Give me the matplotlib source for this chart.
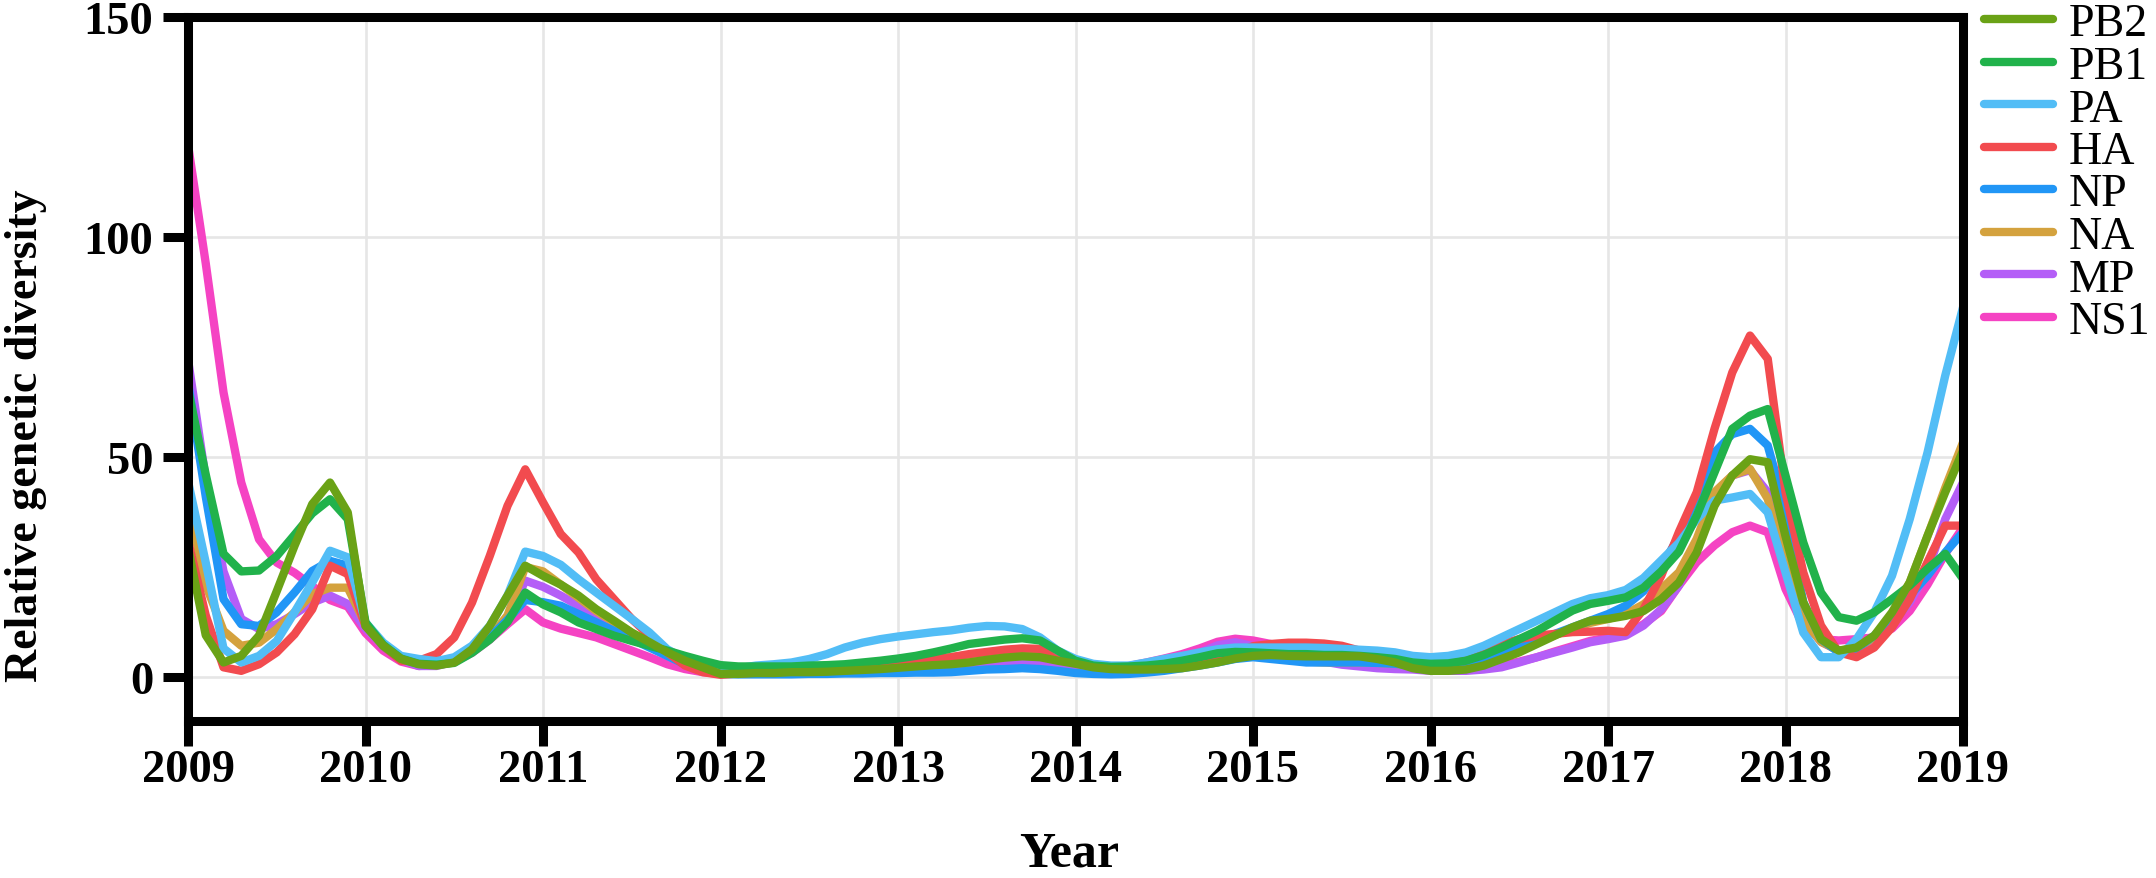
import matplotlib
matplotlib.use("Agg")
import matplotlib.pyplot as plt
import numpy as np

# ---- data -------------------------------------------------------------
years = [2009 + 0.1 * i for i in range(101)]

segments = ["PB2", "PB1", "PA", "HA", "NP", "NA", "MP", "NS1"]
colors = ["#6AA216", "#21B24B", "#52BDF6", "#F24B4F", "#2196F6", "#D4A23E", "#B45EF7", "#F543C3"]

PB2 = [29.5, 9.5, 3.3, 4.8, 9.4, 19.5, 29.8, 39.3, 44.2, 37.4,
       11.6, 7.1, 4.1, 2.9, 2.6, 3.3, 6.3, 11.6, 18.5, 25.3,
       23, 21, 18.5, 15.4, 12.8, 10.1, 7.9, 5.6, 3.7, 2.2,
       0.7, 0.7, 0.9, 0.9, 1.1, 1.1, 1.2, 1.4, 1.6, 1.8,
       2.1, 2.4, 2.7, 2.9, 3.3, 3.9, 4.4, 4.7, 4.5, 3.7,
       3.0, 2.2, 1.8, 1.7, 1.7, 1.8, 2.0, 2.6, 3.3, 4.2,
       4.8, 5.0, 4.8, 4.7, 4.7, 4.7, 4.7, 4.1, 3.3, 2.0,
       1.4, 1.4, 1.7, 2.6, 4.1, 5.6, 7.5, 9.4, 11.3, 12.8,
       13.2, 13.9, 15.0, 17.7, 21.5, 28.3, 38.9, 45.8, 49.5, 48.8,
       32, 17, 8.6, 6.0, 6.7, 9.4, 14.7, 21.5, 32.1, 42, 51.4]

PB1 = [65.4, 46, 28, 24, 24.2, 27.5, 32.3, 37.2, 40.4, 35.9,
       12.4, 7.3, 4.2, 3.0, 2.8, 3.2, 5.5, 8.5, 12.5, 19.2,
       16.5, 14.7, 12.4, 10.9, 9.4, 8.2, 7.1, 6.0, 4.8, 3.7,
       2.7, 2.4, 2.4, 2.4, 2.4, 2.6, 2.7, 2.9, 3.3, 3.7,
       4.2, 4.8, 5.6, 6.5, 7.5, 8.0, 8.5, 8.8, 8.3, 6.0,
       3.7, 2.6, 2.3, 2.4, 2.6, 3.0, 3.7, 4.5, 5.4, 5.7,
       5.6, 5.4, 5.2, 5.2, 5.0, 5.0, 4.8, 4.5, 4.1, 3.3,
       3.0, 3.1, 3.7, 5.0, 6.7, 8.6, 10.5, 12.8, 15.1, 16.6,
       17.3, 18.1, 20.3, 24, 28.5, 36.7, 46.5, 56.4, 59.4, 60.9,
       45.8, 30.6, 19.2, 13.6, 12.8, 14.7, 17.7, 20.8, 24.6, 28, 22.3]

PA = [44.5, 26, 6.5, 3.3, 4.8, 8.2, 14.7, 21.5, 28.7, 27.2,
      12.4, 7.8, 4.8, 4.1, 3.6, 4.5, 7.1, 11.6, 18.5, 28.5,
      27.5, 25.5, 22.2, 19.2, 16.2, 13.2, 10.1, 6.3, 4.1, 2.9,
      2.2, 2.0, 2.6, 2.9, 3.3, 4.1, 5.2, 6.7, 7.8, 8.6,
      9.2, 9.7, 10.2, 10.6, 11.2, 11.6, 11.5, 10.9, 9.0, 6.0,
      4.1, 3.0, 2.6, 2.6, 3.3, 4.1, 4.8, 5.6, 6.3, 6.7,
      6.7, 6.7, 6.7, 6.7, 6.6, 6.4, 6.2, 6.0, 5.6, 4.8,
      4.5, 4.8, 5.6, 7.1, 9.0, 10.9, 12.8, 14.7, 16.6, 17.9,
      18.6, 19.8, 22.5, 26.5, 30.5, 35.9, 40.1, 40.8, 41.6, 37.4,
      23.8, 10.1, 4.5, 4.5, 8.6, 14.7, 23, 35.9, 51, 68.5, 84]

HA = [31, 14, 2.2, 1.4, 2.9, 5.6, 9.7, 15.4, 25.3, 23.4,
      11.6, 7.1, 3.7, 3.7, 5.2, 9.0, 16.9, 27.5, 38.9, 47.2,
      39.7, 32.5, 28.3, 22.2, 17.7, 13.2, 9.4, 5.6, 2.6, 1.1,
      0.5, 0.8, 1.0, 1.2, 1.4, 1.6, 1.8, 2.1, 2.5, 3.0,
      3.3, 3.7, 4.0, 4.5, 5.2, 5.7, 6.2, 6.5, 6.4, 4.8,
      3.7, 2.8, 2.4, 2.4, 2.6, 3.0, 3.5, 4.0, 4.5, 5.5,
      7.0, 7.5, 7.8, 7.8, 7.6, 7.1, 6.0, 5.0, 4.0, 3.3,
      3.0, 3.0, 4.0, 5.8, 7.5, 8.6, 9.4, 9.8, 10.2, 10.3,
      10.5, 10.2, 15.4, 23, 33, 42, 56.4, 69.2, 77.6, 72.3,
      42, 23.8, 11.7, 5.6, 4.5, 6.7, 11.3, 17.7, 26.1, 34.4, 34.4]

NP = [67, 41, 17.7, 12, 11.6, 14.7, 19.2, 24.1, 26.4, 25.3,
      12, 7, 4, 3, 2.8, 3.5, 5.8, 9, 13, 17.5,
      17, 16.2, 14.3, 12.4, 10.5, 8.6, 6.7, 4.8, 2.9, 1.4,
      0.7, 0.6, 0.6, 0.6, 0.6, 0.7, 0.7, 0.8, 0.8, 0.9,
      0.9, 1.0, 1.0, 1.1, 1.4, 1.7, 1.8, 2.0, 1.8, 1.4,
      0.9, 0.7, 0.6, 0.7, 1.0, 1.4, 2.0, 2.6, 3.3, 4.1,
      4.5, 4.1, 3.7, 3.3, 3.3, 3.3, 3.3, 3.2, 3.0, 2.6,
      2.2, 2.2, 2.6, 3.7, 5.2, 6.7, 8.2, 9.8, 11.3, 12.8,
      14.3, 16.2, 19.5, 25, 32, 41.2, 51, 55.2, 56.4, 52.6,
      38, 17, 8.6, 5.6, 6.4, 9.4, 13.2, 18.5, 23, 28.3, 32.9]

NA = [39.7, 21, 10.5, 7.1, 7.8, 10.9, 14.7, 18.8, 20.3, 20.3,
      12, 7, 4, 3, 2.8, 3.5, 5.8, 9, 14, 25,
      24, 21, 18, 15, 12.5, 10, 7.8, 5.5, 3.5, 2.0,
      1.0, 1.0, 1.2, 1.4, 1.6, 1.8, 2.0, 2.3, 2.6, 3.0,
      3.4, 3.8, 4.2, 4.5, 5.0, 5.5, 5.8, 6.0, 5.8, 4.5,
      3.3, 2.5, 2.2, 2.2, 2.4, 2.8, 3.2, 3.8, 4.5, 5.0,
      5.2, 4.5, 4.0, 3.5, 3.3, 3.3, 3.3, 3.2, 3.0, 2.5,
      2.2, 2.2, 2.5, 3.5, 5.0, 6.5, 8.0, 9.5, 11.0, 12.3,
      13.2, 14.3, 16.5, 20, 23.8, 31.4, 42, 45.8, 47.3, 40.5,
      25, 13, 8, 6, 6.5, 9, 14, 21.5, 32, 43, 53.3]

MP = [72.2, 45, 24, 13.2, 10.9, 12, 14.3, 16.9, 18.5, 16.6,
      11, 7, 4, 2.5, 2.5, 3.5, 5.8, 9, 13, 21.9,
      20.5, 18.5, 16.2, 13.9, 11.6, 9.4, 7.1, 4.8, 2.9, 1.4,
      0.7, 0.8, 0.9, 1.0, 1.1, 1.2, 1.4, 1.5, 1.7, 1.9,
      2.1, 2.2, 2.4, 2.5, 2.8, 3.0, 3.2, 3.3, 3.2, 2.8,
      2.2, 1.8, 1.6, 1.8, 2.2, 3.0, 4.0, 5.5, 7.2, 7.9,
      7.0, 5.5, 5.0, 4.5, 3.5, 2.8, 2.4, 2.0, 1.8, 1.7,
      1.4, 1.4, 1.4, 1.7, 2.2, 3.3, 4.5, 5.6, 6.7, 7.9,
      8.6, 9.4, 11.7, 15.4, 20.8, 29.9, 41.2, 45.8, 47, 42,
      25, 13, 8, 6, 6, 8, 12, 17, 24, 35.9, 44.2]

NS1 = [121, 94, 64.7, 44.2, 31.3, 26, 23.7, 20.7, 17.5, 16,
       10, 6, 3.5, 2.5, 2.8, 3.5, 5.5, 8.5, 12, 15.4,
       12.4, 11, 10, 9, 7.5, 6, 4.5, 2.9, 1.8, 1.1,
       0.7, 0.8, 0.9, 1.0, 1.1, 1.2, 1.3, 1.5, 1.6, 1.8,
       2.0, 2.1, 2.2, 2.3, 2.6, 2.8, 3.0, 3.0, 2.8, 2.5,
       2.0, 1.8, 2.0, 2.5, 3.3, 4.2, 5.2, 6.5, 8.0, 8.7,
       8.3, 7.5, 6.7, 6.0, 5.5, 5.0, 4.5, 4.0, 3.5, 3.0,
       2.5, 2.0, 1.8, 2.0, 2.6, 3.5, 4.5, 5.8, 7.0, 8.2,
       9.0, 9.8, 12, 15, 20.8, 26.1, 29.9, 32.9, 34.4, 32.9,
       20, 11.7, 8.6, 8.3, 8.6, 9, 11, 15, 21, 28, 34]

series = [PB2, PB1, PA, HA, NP, NA, MP, NS1]

x_ticks = list(range(2009, 2020))
y_ticks = [0, 50, 100, 150]

# ---- figure -----------------------------------------------------------
W, H = 2156, 879
fig = plt.figure(figsize=(W / 100, H / 100), dpi=100)
ax = fig.add_axes([188 / W, 1 - 722 / H, (1963 - 188) / W, (722 - 18) / H])

FONT = "Liberation Serif"
LW = 6.0

handles = {}
# draw in reverse so PB2 ends on top
for name, col, vals in reversed(list(zip(segments, colors, series))):
    ln, = ax.plot(years, vals, color=col, lw=LW, solid_joinstyle="round",
                  solid_capstyle="round", label=name, zorder=3)
    handles[name] = ln

ax.set_xlim(2009, 2019)
ax.set_ylim(-10, 150)
ax.set_xticks(x_ticks)
ax.set_yticks(y_ticks)
ax.grid(True, color="#e6e6e6", lw=1.9, zorder=0)
ax.set_axisbelow(True)

for sp in ax.spines.values():
    sp.set_linewidth(6.5)
    sp.set_color("black")
    sp.set_zorder(5)

ax.tick_params(axis="both", direction="out", length=18, width=6.5, color="black")
ax.tick_params(axis="x", pad=2)
ax.tick_params(axis="y", pad=7)
for lab in ax.get_xticklabels() + ax.get_yticklabels():
    lab.set_fontfamily(FONT)
    lab.set_fontweight("bold")
    lab.set_fontsize(33.5)

fig.text(26 / W, 1 - 436 / H, "Relative genetic diversity", rotation=90,
         ha="center", va="center", fontsize=33, fontweight="bold", family=FONT)
fig.text(1069 / W, 1 - 867 / H, "Year", ha="center", va="baseline",
         fontsize=36, fontweight="bold", family=FONT)

leg = fig.legend([handles[s] for s in segments], segments,
                 loc="upper left", bbox_to_anchor=(1984 / W, 1 - 4 / H),
                 frameon=False, borderpad=0, borderaxespad=0,
                 handlelength=1.5, handletextpad=0.35, labelspacing=0.0,
                 prop={"family": FONT, "size": 33})

fig.savefig("out.png", dpi=100)
